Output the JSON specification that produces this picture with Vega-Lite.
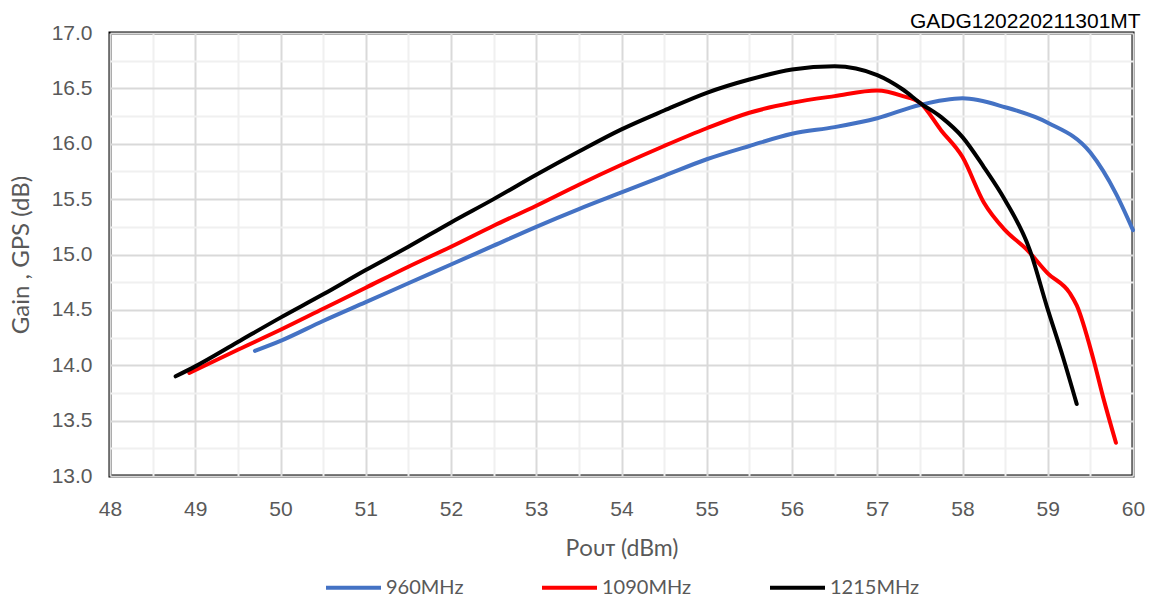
{
  "$schema": "https://vega.github.io/schema/vega-lite/v6.json",
  "width": 1023,
  "height": 443,
  "autosize": {"type": "none"},
  "padding": {"left": 110, "top": 33, "right": 27, "bottom": 124},
  "background": "white",
  "title": {"text": "GADG120220211301MT", "anchor": "end", "fontSize": 21, "font": "Liberation Sans", "fontWeight": "normal", "color": "black", "offset": -10, "dx": -4},
  "config": {
    "view": {"stroke": "black", "strokeWidth": 3},
    "axis": {"domain": false, "ticks": false, "gridWidth": 2},
    "legend": {"layout": {"bottom": {"anchor": "middle"}}}
  },
  "data": {"values": [
    {"f": "960MHz", "p": 49.70, "g": 14.13},
    {"f": "960MHz", "p": 50.0, "g": 14.22},
    {"f": "960MHz", "p": 50.5, "g": 14.40},
    {"f": "960MHz", "p": 51.0, "g": 14.57},
    {"f": "960MHz", "p": 51.5, "g": 14.74},
    {"f": "960MHz", "p": 52.0, "g": 14.91},
    {"f": "960MHz", "p": 52.5, "g": 15.08},
    {"f": "960MHz", "p": 53.0, "g": 15.25},
    {"f": "960MHz", "p": 53.5, "g": 15.41},
    {"f": "960MHz", "p": 54.0, "g": 15.56},
    {"f": "960MHz", "p": 54.5, "g": 15.71},
    {"f": "960MHz", "p": 55.0, "g": 15.86},
    {"f": "960MHz", "p": 55.5, "g": 15.98},
    {"f": "960MHz", "p": 56.0, "g": 16.09},
    {"f": "960MHz", "p": 56.5, "g": 16.15},
    {"f": "960MHz", "p": 57.0, "g": 16.23},
    {"f": "960MHz", "p": 57.5, "g": 16.35},
    {"f": "960MHz", "p": 58.0, "g": 16.41},
    {"f": "960MHz", "p": 58.5, "g": 16.33},
    {"f": "960MHz", "p": 59.0, "g": 16.19},
    {"f": "960MHz", "p": 59.5, "g": 15.92},
    {"f": "960MHz", "p": 59.8, "g": 15.55},
    {"f": "960MHz", "p": 60.0, "g": 15.22},
    {"f": "1090MHz", "p": 48.93, "g": 13.93},
    {"f": "1090MHz", "p": 49.5, "g": 14.14},
    {"f": "1090MHz", "p": 50.0, "g": 14.32},
    {"f": "1090MHz", "p": 50.5, "g": 14.51},
    {"f": "1090MHz", "p": 51.0, "g": 14.70},
    {"f": "1090MHz", "p": 51.5, "g": 14.89},
    {"f": "1090MHz", "p": 52.0, "g": 15.07},
    {"f": "1090MHz", "p": 52.5, "g": 15.26},
    {"f": "1090MHz", "p": 53.0, "g": 15.44},
    {"f": "1090MHz", "p": 53.5, "g": 15.63},
    {"f": "1090MHz", "p": 54.0, "g": 15.81},
    {"f": "1090MHz", "p": 54.5, "g": 15.98},
    {"f": "1090MHz", "p": 55.0, "g": 16.14},
    {"f": "1090MHz", "p": 55.5, "g": 16.28},
    {"f": "1090MHz", "p": 56.0, "g": 16.37},
    {"f": "1090MHz", "p": 56.5, "g": 16.43},
    {"f": "1090MHz", "p": 57.0, "g": 16.48},
    {"f": "1090MHz", "p": 57.3, "g": 16.43},
    {"f": "1090MHz", "p": 57.5, "g": 16.37},
    {"f": "1090MHz", "p": 57.75, "g": 16.12},
    {"f": "1090MHz", "p": 58.0, "g": 15.88},
    {"f": "1090MHz", "p": 58.25, "g": 15.47},
    {"f": "1090MHz", "p": 58.5, "g": 15.22},
    {"f": "1090MHz", "p": 58.76, "g": 15.04},
    {"f": "1090MHz", "p": 59.0, "g": 14.83},
    {"f": "1090MHz", "p": 59.26, "g": 14.65},
    {"f": "1090MHz", "p": 59.34, "g": 14.54},
    {"f": "1090MHz", "p": 59.53, "g": 14.07},
    {"f": "1090MHz", "p": 59.65, "g": 13.71},
    {"f": "1090MHz", "p": 59.80, "g": 13.30},
    {"f": "1215MHz", "p": 48.77, "g": 13.90},
    {"f": "1215MHz", "p": 49.0, "g": 13.99},
    {"f": "1215MHz", "p": 49.5, "g": 14.21},
    {"f": "1215MHz", "p": 50.0, "g": 14.43},
    {"f": "1215MHz", "p": 50.5, "g": 14.64},
    {"f": "1215MHz", "p": 51.0, "g": 14.86},
    {"f": "1215MHz", "p": 51.5, "g": 15.07},
    {"f": "1215MHz", "p": 52.0, "g": 15.29},
    {"f": "1215MHz", "p": 52.5, "g": 15.50},
    {"f": "1215MHz", "p": 53.0, "g": 15.72},
    {"f": "1215MHz", "p": 53.5, "g": 15.93},
    {"f": "1215MHz", "p": 54.0, "g": 16.13},
    {"f": "1215MHz", "p": 54.5, "g": 16.30},
    {"f": "1215MHz", "p": 55.0, "g": 16.46},
    {"f": "1215MHz", "p": 55.5, "g": 16.58},
    {"f": "1215MHz", "p": 56.0, "g": 16.67},
    {"f": "1215MHz", "p": 56.5, "g": 16.70},
    {"f": "1215MHz", "p": 57.0, "g": 16.62},
    {"f": "1215MHz", "p": 57.3, "g": 16.49},
    {"f": "1215MHz", "p": 57.5, "g": 16.37},
    {"f": "1215MHz", "p": 57.75, "g": 16.24},
    {"f": "1215MHz", "p": 58.0, "g": 16.06},
    {"f": "1215MHz", "p": 58.25, "g": 15.79},
    {"f": "1215MHz", "p": 58.5, "g": 15.49},
    {"f": "1215MHz", "p": 58.79, "g": 15.04},
    {"f": "1215MHz", "p": 58.99, "g": 14.53},
    {"f": "1215MHz", "p": 59.18, "g": 14.07},
    {"f": "1215MHz", "p": 59.34, "g": 13.65}
  ]},
  "mark": {"type": "line", "strokeWidth": 4, "interpolate": "monotone", "strokeCap": "round"},
  "encoding": {
    "x": {
      "field": "p", "type": "quantitative",
      "scale": {"domain": [48, 60], "nice": false, "zero": false},
      "axis": {
        "values": [48, 48.5, 49, 49.5, 50, 50.5, 51, 51.5, 52, 52.5, 53, 53.5, 54, 54.5, 55, 55.5, 56, 56.5, 57, 57.5, 58, 58.5, 59, 59.5, 60],
        "labelExpr": "datum.value % 1 === 0 ? format(datum.value, 'd') : ''",
        "labelFlush": false,
        "gridColor": {"condition": {"test": "datum.value % 1 !== 0", "value": "#f0f0f0"}, "value": "#d9d9d9"},
        "labelFont": "Liberation Sans", "labelFontSize": 21, "labelColor": "#595959", "labelPadding": 22,
        "title": "Pᴏᴜᴛ (dBm)", "titleFont": "Lato", "titleFontSize": 23, "titleFontWeight": "normal", "titleColor": "#595959", "titlePadding": 18
      }
    },
    "y": {
      "field": "g", "type": "quantitative",
      "scale": {"domain": [13, 17], "nice": false, "zero": false},
      "axis": {
        "values": [13, 13.25, 13.5, 13.75, 14, 14.25, 14.5, 14.75, 15, 15.25, 15.5, 15.75, 16, 16.25, 16.5, 16.75, 17],
        "labelExpr": "datum.value % 0.5 === 0 ? format(datum.value, '.1f') : ''",
        "gridColor": {"condition": {"test": "datum.value % 0.5 !== 0", "value": "#f0f0f0"}, "value": "#d9d9d9"},
        "labelFont": "Liberation Sans", "labelFontSize": 21, "labelColor": "#595959", "labelPadding": 18,
        "title": "Gain , GPS (dB)", "titleFont": "Lato", "titleFontSize": 24, "titleFontWeight": "normal", "titleColor": "#595959", "titlePadding": 18
      }
    },
    "color": {
      "field": "f", "type": "nominal",
      "scale": {"domain": ["960MHz", "1090MHz", "1215MHz"], "range": ["#4472C4", "#FF0000", "#000000"]},
      "legend": {
        "title": null, "orient": "bottom", "direction": "horizontal",
        "symbolType": "stroke", "symbolStrokeWidth": 4, "symbolSize": 3025,
        "labelFont": "Lato", "labelFontSize": 20, "labelColor": "#595959", "labelOffset": 3,
        "columnPadding": 70, "offset": -2
      }
    }
  }
}
